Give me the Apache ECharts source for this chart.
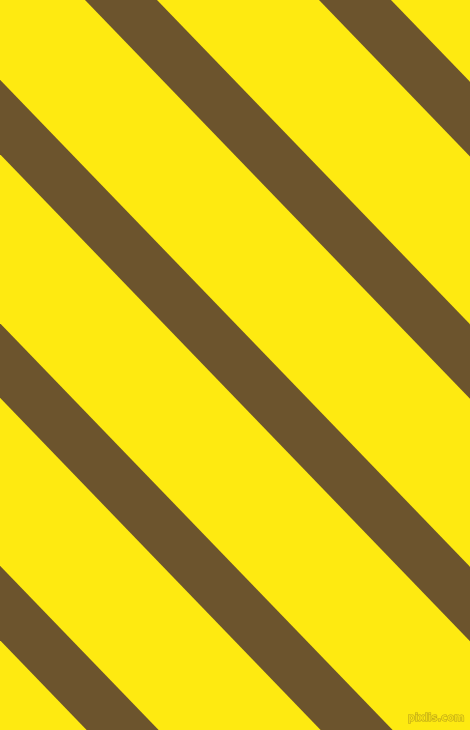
<!DOCTYPE html>
<html>
<head>
<meta charset="utf-8">
<script src="https://cdn.jsdelivr.net/npm/echarts@6/dist/echarts.min.js"></script>
<style>
html,body{margin:0;padding:0;background:#FEEA11;}
#chart{width:470px;height:730px;}
</style>
</head>
<body>
<div id="chart"></div>
<script>
// Stripe boundaries along the top edge (x at y = 0), in px units of the picture
const stripeStart = [-618, -384, -149, 85, 319];
const stripeEnd   = [-546, -312, -77, 157, 391];
const slope = 1.036; // dy/dx of the stripes

const chart = echarts.init(document.getElementById('chart'));
const data = stripeStart.map((s, i) => [s, stripeEnd[i]]);

chart.setOption({
  backgroundColor: '#FEEA11',
  animation: false,
  grid: {left: 0, right: 0, top: 0, bottom: 0},
  xAxis: {type: 'value', min: 0, max: 470, show: false},
  yAxis: {type: 'value', min: 0, max: 730, inverse: true, show: false},
  series: [{
    type: 'custom',
    clip: true,
    data: data,
    renderItem: function (params, api) {
      const a = api.value(0), b = api.value(1);
      const d = 730 / slope;
      const pts = [
        api.coord([a, 0]),
        api.coord([b, 0]),
        api.coord([b + d, 730]),
        api.coord([a + d, 730])
      ];
      return {
        type: 'polygon',
        shape: {points: pts},
        style: {fill: '#6C542D'}
      };
    }
  }],
  graphic: [{
    type: 'text',
    right: 5,
    bottom: 6,
    style: {
      text: 'pixlis.com',
      fill: '#F2DC12',
      stroke: '#B8A21A',
      lineWidth: 1,
      font: 'bold 10px "DejaVu Sans"'
    }
  }]
});
</script>
</body>
</html>
